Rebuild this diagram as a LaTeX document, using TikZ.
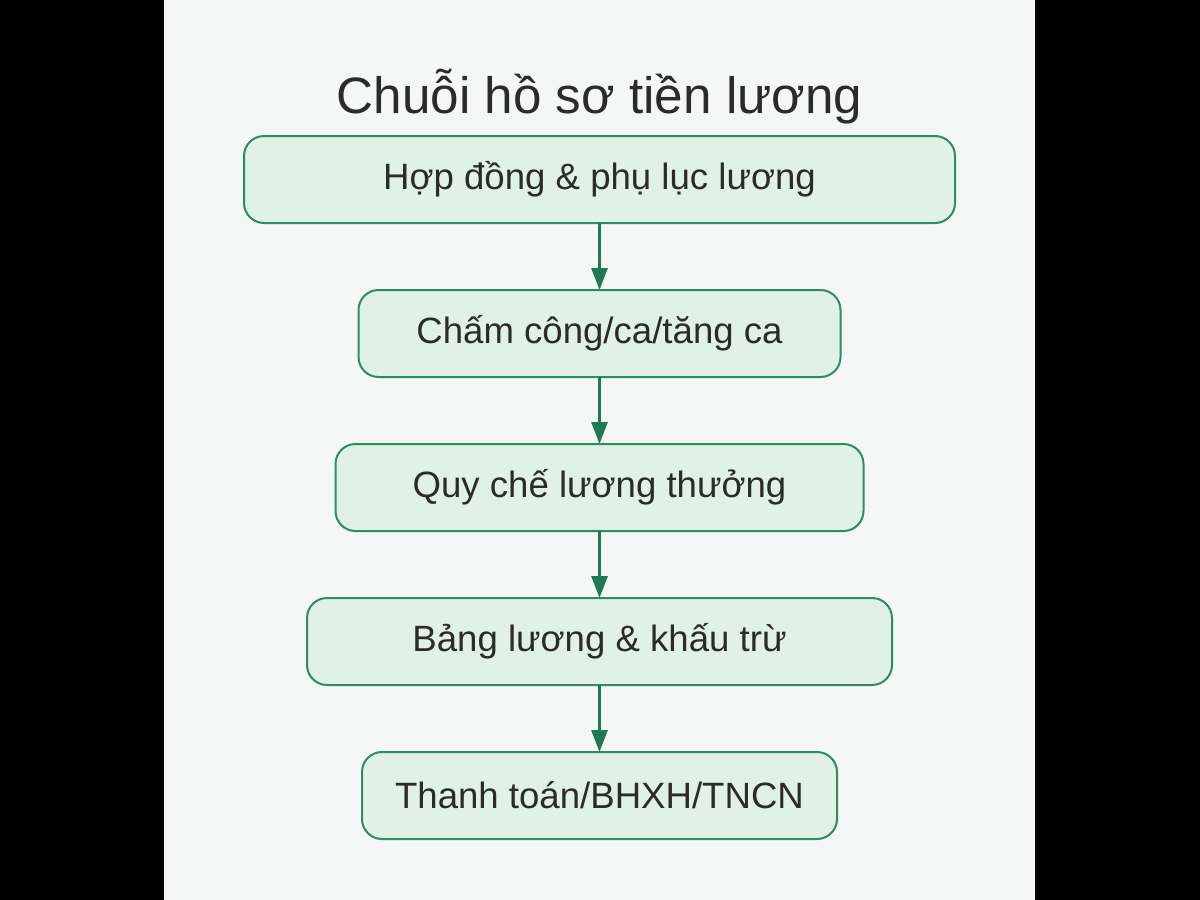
\documentclass[tikz,border=0pt]{standalone}
\usepackage{fontspec}
\setmainfont{Liberation Sans}
\usetikzlibrary{positioning,arrows.meta}
\definecolor{pagebg}{HTML}{F5F7F7}
\definecolor{boxfill}{HTML}{E0F2E7}
\definecolor{boxline}{HTML}{2E8B63}
\definecolor{flowline}{HTML}{1E7A55}
\definecolor{titletext}{HTML}{2B2B2B}

\begin{document}
\begin{tikzpicture}[node distance=33.5pt,
    box/.style={draw=boxline, line width=1pt, fill=boxfill, rounded corners=10pt,
      minimum height=43.5pt, outer sep=0pt, text=titletext,
      font=\fontsize{18.3pt}{22pt}\selectfont},
    flow/.style={draw=flowline, line width=1.5pt, -{Triangle[length=11pt,width=8pt]}}]
    \useasboundingbox (0,0) rectangle (600pt,-450pt);
    \fill[black] (0,0) rectangle (600pt,-450pt);
    \fill[pagebg] (82pt,0) rectangle (517.5pt,-450pt);
    \node(title) [text=titletext, font=\fontsize{25.6pt}{31pt}\selectfont] at (299.75pt,-48.5pt) {Chuỗi hồ sơ tiền lương};
    \node(hopdong) [box, minimum width=355.5pt] at (299.75pt,-89.75pt) {Hợp đồng \& phụ lục lương};
    \node(chamcong) [box, minimum width=241pt, below=of hopdong] {Chấm công/ca/tăng ca};
    \node(quyche) [box, minimum width=264pt, below=of chamcong] {Quy chế lương thưởng};
    \node(bangluong) [box, minimum width=292.5pt, below=of quyche] {Bảng lương \& khấu trừ};
    \node(thanhtoan) [box, minimum width=237.5pt, below=of bangluong] {Thanh toán/BHXH/TNCN};
    \draw[flow] (hopdong) -- (chamcong);
    \draw[flow] (chamcong) -- (quyche);
    \draw[flow] (quyche) -- (bangluong);
    \draw[flow] (bangluong) -- (thanhtoan);
  \end{tikzpicture}
\end{document}
